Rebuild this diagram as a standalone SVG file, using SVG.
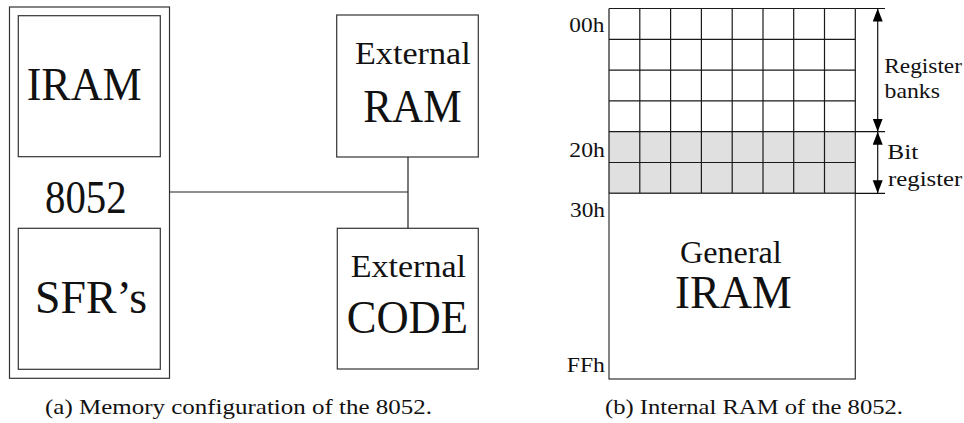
<svg xmlns="http://www.w3.org/2000/svg" width="964" height="423" viewBox="0 0 964 423" font-family="'Liberation Serif', 'Times New Roman', Times, serif">
  <style>
    .box { fill: #ffffff; stroke: #333333; stroke-width: 1.2; }
    .wire { fill: none; stroke: #222222; stroke-width: 1.2; }
    .grid { fill: none; stroke: #1a1a1a; stroke-width: 1.2; }
    .shade { fill: #e0e0e0; stroke: none; }
    .dim { fill: none; stroke: #111111; stroke-width: 1.2; }
    text { font-family: 'Liberation Serif', 'Times New Roman', Times, serif; fill: #111111; }
    .huge { font-size: 47px; }
    .large { font-size: 31px; }
    .small { font-size: 22px; }
    .caption { font-size: 22px; }
  </style>
  <defs>
    <marker id="head" markerUnits="userSpaceOnUse" markerWidth="15" markerHeight="11" refX="13" refY="5" orient="auto-start-reverse">
      <path d="M0,0 L13,5 L0,10 Z" fill="#000000"/>
    </marker>
  </defs>

  <rect width="964" height="423" fill="#ffffff"/>

  <!-- (a) memory configuration -->
  <g id="chip-8052">
    <rect class="box" x="9.5" y="7" width="160" height="371.3"/>
    <text class="huge" x="45" y="213.3" textLength="81.7" lengthAdjust="spacingAndGlyphs">8052</text>
  </g>
  <g id="iram">
    <rect class="box" x="18.3" y="15.7" width="142" height="141"/>
    <text class="huge" x="26.7" y="100" textLength="115" lengthAdjust="spacingAndGlyphs">IRAM</text>
  </g>
  <g id="sfr">
    <rect class="box" x="18.3" y="228.3" width="142" height="141"/>
    <text class="huge" x="35" y="313" textLength="112" lengthAdjust="spacingAndGlyphs">SFR’s</text>
  </g>
  <g id="external-ram">
    <rect class="box" x="336.7" y="15" width="141.6" height="142"/>
    <text class="large" x="355" y="64.3" textLength="115.7" lengthAdjust="spacingAndGlyphs">External</text>
    <text class="huge" x="363.3" y="121.7" textLength="98.4" lengthAdjust="spacingAndGlyphs">RAM</text>
  </g>
  <g id="external-code">
    <rect class="box" x="337.3" y="228.3" width="141" height="140.7"/>
    <text class="large" x="350.7" y="277.3" textLength="115.3" lengthAdjust="spacingAndGlyphs">External</text>
    <text class="huge" x="346.7" y="333" textLength="121.3" lengthAdjust="spacingAndGlyphs">CODE</text>
  </g>
  <g id="connectors">
    <path class="wire" d="M169.5,192 H408"/>
    <path class="wire" d="M408,157 V228.3"/>
  </g>

  <!-- (b) internal RAM map -->
  <g id="internal-ram">
    <rect class="shade" x="609" y="131.7" width="246.3" height="61.6"/>
    <path class="grid" d="M609,8.5 H855.3 M609,39.3 H855.3 M609,70.1 H855.3 M609,100.9 H855.3 M609,131.7 H855.3 M609,162.5 H855.3 M609,193.3 H855.3"/>
    <path class="grid" d="M609,8.5 V193.3 M639.8,8.5 V193.3 M670.6,8.5 V193.3 M701.4,8.5 V193.3 M732.2,8.5 V193.3 M763,8.5 V193.3 M793.7,8.5 V193.3 M824.5,8.5 V193.3 M855.3,8.5 V193.3"/>
    <rect class="box" x="609" y="193.3" width="246.3" height="185.7"/>
    <text class="large" x="680" y="262.7" textLength="101.7" lengthAdjust="spacingAndGlyphs">General</text>
    <text class="huge" x="675" y="308.3" textLength="116.7" lengthAdjust="spacingAndGlyphs">IRAM</text>
  </g>
  <g id="addresses">
    <text class="small" x="569.3" y="32.3" textLength="35" lengthAdjust="spacingAndGlyphs">00h</text>
    <text class="small" x="569.3" y="156.7" textLength="35.5" lengthAdjust="spacingAndGlyphs">20h</text>
    <text class="small" x="570" y="217.3" textLength="35" lengthAdjust="spacingAndGlyphs">30h</text>
    <text class="small" x="566.7" y="371.7" textLength="38.3" lengthAdjust="spacingAndGlyphs">FFh</text>
  </g>
  <g id="region-sizes">
    <path class="dim" d="M855.3,8.5 H885 M855.3,131.7 H885 M855.3,193.3 H885"/>
    <path class="dim" d="M877.7,8.5 V131.7" marker-start="url(#head)" marker-end="url(#head)"/>
    <path class="dim" d="M877.7,131.7 V193.3" marker-start="url(#head)" marker-end="url(#head)"/>
    <text class="small" x="884.3" y="73" textLength="77.7" lengthAdjust="spacingAndGlyphs">Register</text>
    <text class="small" x="884.5" y="98" textLength="55.5" lengthAdjust="spacingAndGlyphs">banks</text>
    <text class="small" x="887.3" y="159" textLength="31" lengthAdjust="spacingAndGlyphs">Bit</text>
    <text class="small" x="888" y="185.7" textLength="74.3" lengthAdjust="spacingAndGlyphs">register</text>
  </g>

  <!-- captions -->
  <g id="captions">
    <text class="caption" x="45" y="414" textLength="387" lengthAdjust="spacingAndGlyphs">(a) Memory configuration of the 8052.</text>
    <text class="caption" x="605" y="414" textLength="298" lengthAdjust="spacingAndGlyphs">(b) Internal RAM of the 8052.</text>
  </g>
</svg>
